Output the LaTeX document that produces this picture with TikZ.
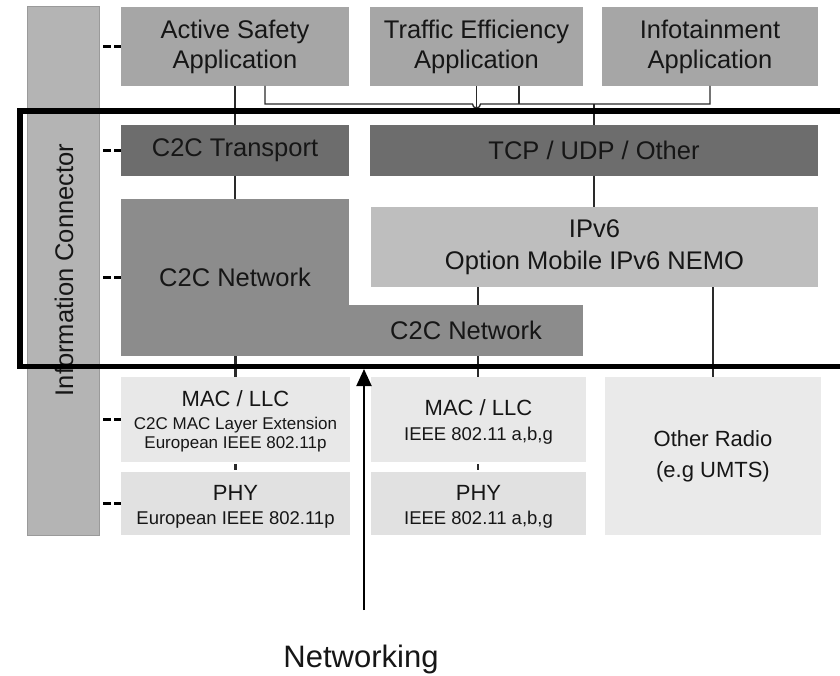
\documentclass[tikz,border=0pt]{standalone}
\usepackage{fontspec}
\setmainfont{Liberation Sans}
\usetikzlibrary{arrows.meta}

\definecolor{appgray}{HTML}{A6A6A6}
\definecolor{icgray}{HTML}{B4B4B4}
\definecolor{icedge}{HTML}{9A9A9A}
\definecolor{transgray}{HTML}{6D6D6D}
\definecolor{netgray}{HTML}{8C8C8C}
\definecolor{ipgray}{HTML}{BEBEBE}
\definecolor{macgray}{HTML}{E8E8E8}
\definecolor{phygray}{HTML}{E1E1E1}
\definecolor{radiogray}{HTML}{EAEAEA}
\definecolor{inkgray}{HTML}{161616}
\definecolor{wiregray}{HTML}{2A2A2A}

\newcommand\setfs[2]{\fontsize{#1}{#2}\selectfont}

\tikzset{
  layerbox/.style={rectangle, inner sep=0pt, outer sep=0pt, anchor=north west,
    text=inkgray, align=center, font=\setfs{25.5}{30}},
  txt/.style={inner sep=0pt, text=inkgray, anchor=base},
  conn/.style={draw=wiregray, line width=1.3pt},
  thickconn/.style={draw=wiregray, line width=2.2pt},
  iclink/.style={draw=black, line width=3pt, dash pattern=on 8pt off 3pt},
}

\begin{document}
\begin{tikzpicture}[x=1pt, y=-1pt]
\clip (0,0) rectangle (840,676);
\fill[white] (0,0) rectangle (840,676);

% information connector column
\node[layerbox, fill=icgray, draw=icedge, line width=1pt,
      minimum width=72pt, minimum height=528pt] (ic) at (27,7) {};
\node[txt, anchor=center, rotate=90, font=\setfs{25.5}{30}] (ictext) at (64,270) {Information Connector};

% application layer
\node[layerbox, fill=appgray, minimum width=228pt, minimum height=79pt] (as) at (121,7) {Active Safety\\Application};
\node[layerbox, fill=appgray, minimum width=213pt, minimum height=79pt] (te) at (370,7) {Traffic Efficiency\\Application};
\node[layerbox, fill=appgray, minimum width=216pt, minimum height=79pt] (inf) at (602,7) {Infotainment\\Application};

% transport layer
\node[layerbox, fill=transgray, minimum width=228pt, minimum height=51pt] (c2ct) at (121,125) {C2C Transport};
\node[layerbox, fill=transgray, minimum width=448pt, minimum height=51pt] (tcp) at (370,125) {TCP / UDP / Other};

% network layer
\node[layerbox, fill=netgray, minimum width=228pt, minimum height=157pt] (c2cnU) at (121,199) {C2C Network};
\node[layerbox, fill=netgray, minimum width=234pt, minimum height=51pt] (c2cnL) at (349,305) {C2C Network};
\node[layerbox, fill=ipgray, minimum width=447pt, minimum height=80pt, font=\setfs{25.5}{32}] (ipv6) at (371,207) {IPv6\\Option Mobile IPv6 NEMO};

% MAC / PHY layer
\node[layerbox, fill=macgray, minimum width=229pt, minimum height=85pt] (macL) at (121,377) {};
\node[layerbox, fill=phygray, minimum width=229pt, minimum height=63pt] (phyL) at (121,472) {};
\node[layerbox, fill=macgray, minimum width=215pt, minimum height=85pt] (macM) at (371,377) {};
\node[layerbox, fill=phygray, minimum width=215pt, minimum height=63pt] (phyM) at (371,472) {};
\node[layerbox, fill=radiogray, minimum width=216pt, minimum height=158pt,
      font=\setfs{22}{31}] (radio) at (605,377) {Other Radio\\(e.g UMTS)};

\node[txt, font=\setfs{22}{26}] (macLa) at (235.5,406) {MAC / LLC};
\node[txt, font=\setfs{17}{20}] (macLb) at (235.5,429) {C2C MAC Layer Extension};
\node[txt, font=\setfs{17}{20}] (macLc) at (235.5,448) {European IEEE 802.11p};
\node[txt, font=\setfs{22}{26}] (phyLa) at (235.5,500) {PHY};
\node[txt, font=\setfs{18.5}{22}] (phyLb) at (235.5,524) {European IEEE 802.11p};
\node[txt, font=\setfs{22}{26}] (macMa) at (478.5,415) {MAC / LLC};
\node[txt, font=\setfs{18.5}{22}] (macMb) at (478.5,440) {IEEE 802.11 a,b,g};
\node[txt, font=\setfs{22}{26}] (phyMa) at (478.5,500) {PHY};
\node[txt, font=\setfs{18.5}{22}] (phyMb) at (478.5,524) {IEEE 802.11 a,b,g};

% routing between layers
\coordinate (busL) at (265,104);
\coordinate (teR) at (519,104);
\coordinate (hop) at (0,113);
\coordinate (midx) at (478,0);
\coordinate (radx) at (713,0);

\draw[thickconn] (as.south) -- (c2ct.north);
\draw[conn] (as.south -| busL) -- (busL) -- (472.5,104)
  arc[start angle=180, end angle=360, radius=4pt] -- (inf.south |- busL) -- (inf.south);
\draw[conn] (te.south -| teR) -- (teR);
\draw[conn] (tcp.north) -- (tcp.north |- busL);
\draw[conn] (te.south) -- (te.south |- hop) -- (as.south |- hop);
\draw[conn] (tcp.south) -- (tcp.south |- ipv6.north);
\draw[thickconn] (c2ct.south) -- (c2cnU.north);
\draw[conn] (ipv6.south -| midx) -- (c2cnL.north -| midx);
\draw[thickconn] (c2cnU.south -| macL.north) -- (macL.north);
\draw[conn] (c2cnL.south -| midx) -- (macM.north -| midx);
\draw[thickconn, shorten <=2pt, shorten >=2pt] (macL.south) -- (phyL.north);
\draw[conn, shorten <=2pt, shorten >=2pt] (macM.south -| midx) -- (phyM.north -| midx);
\draw[conn] (ipv6.south -| radx) -- (radio.north -| radx);

% links to the information connector
\foreach \b in {as, c2ct, c2cnU, macL, phyL}
  \draw[iclink] ([xshift=4pt]ic.east |- \b.west) -- (\b.west);

% networking frame
\node[rectangle, draw=black, line width=5.5pt, inner sep=0pt, anchor=north west,
      minimum width=833pt, minimum height=255pt] (frame) at (17,108.5) {};

% networking pointer
\coordinate (arrowfoot) at (364,610);
\draw[draw=black, line width=2pt, -{Triangle[width=15pt, length=17pt]}]
  (arrowfoot) -- (arrowfoot |- frame.south);
\node[txt, font=\setfs{31}{36}] (netlabel) at (361,667) {Networking};
\end{tikzpicture}
\end{document}
